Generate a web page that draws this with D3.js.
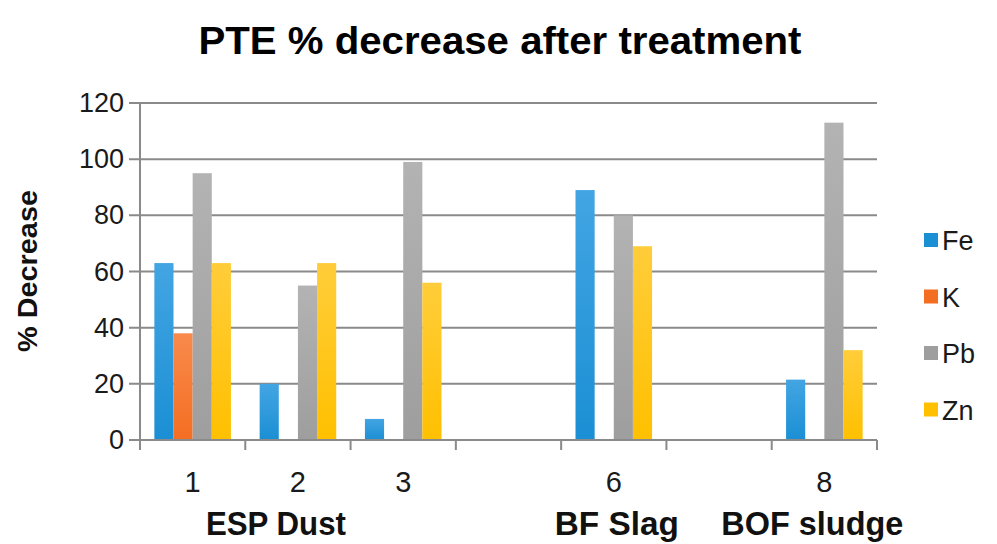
<!DOCTYPE html>
<html>
<head>
<meta charset="utf-8">
<script src="https://cdn.jsdelivr.net/npm/d3@7"></script>
<style>
	body { margin: 0; background: #fff; }
	svg { display: block; font-family: "Liberation Sans", Arial, sans-serif; }
</style>
</head>
<body>
<main></main>
<script>
// DATA
const categories = ["1", "2", "3", "", "6", "", "8"];
const series = ["Fe", "K", "Pb", "Zn"];
const feValues = [63, 20, 7.5, null, 89, null, 21.5];
const kValues = [38, null, null, null, null, null, null];
const pbValues = [95, 55, 99, null, 80, null, 113];
const znValues = [63, 63, 56, null, 69, null, 32];
const yTicks = [0, 20, 40, 60, 80, 100, 120];
const groupLabels = ["ESP Dust", "BF Slag", "BOF sludge"];
const colors = ["#1b8fd4", "#f46e22", "#9e9e9e", "#ffc000"];
const colorsLight = ["#43a5e3", "#f88a4c", "#b3b3b3", "#ffcd3a"];

// CHART
function drawChart() {
	const w = 997;
	const h = 544;
	const left = 140, right = 877, top = 103, bottom = 440;

	const svg = d3.select('main').append('svg')
		.attr("width", w)
		.attr("height", h);

	const values = [feValues, kValues, pbValues, znValues];

	// gradients
	const defs = svg.append("defs");
	series.forEach((s, si) => {
		const g = defs.append("linearGradient")
			.attr("id", "grad" + si)
			.attr("x1", 0).attr("y1", 0).attr("x2", 0).attr("y2", 1);
		g.append("stop").attr("offset", "0%").attr("stop-color", colorsLight[si]);
		g.append("stop").attr("offset", "100%").attr("stop-color", colors[si]);
	});

	// scales
	const x = d3.scaleBand()
		.domain(d3.range(categories.length))
		.range([left, right]);
	const bw = x.bandwidth();
	const pad = bw * 0.75 / 5.5;
	const xSub = d3.scaleBand()
		.domain(series)
		.range([pad, bw - pad]);
	const y = d3.scaleLinear()
		.domain([0, 120])
		.range([bottom, top]);

	// title
	svg.append("text")
		.attr("x", 500)
		.attr("y", 54)
		.attr("text-anchor", "middle")
		.attr("font-size", 38)
		.attr("font-weight", "bold")
		.attr("textLength", 603)
		.attr("lengthAdjust", "spacingAndGlyphs")
		.attr("fill", "#000")
		.text("PTE % decrease after treatment");

	// gridlines
	svg.append("g")
		.selectAll("line")
		.data(yTicks)
		.enter()
		.append("line")
			.attr("x1", left - 11)
			.attr("x2", right)
			.attr("y1", d => y(d))
			.attr("y2", d => y(d))
			.attr("stroke", "#8a8a8a")
			.attr("stroke-width", 2);

	// y axis
	const yAxis = d3.axisLeft(y).tickValues(yTicks).tickSize(0).tickPadding(16);
	const gy = svg.append("g")
		.attr("transform", `translate(${left}, 0)`)
		.call(yAxis);
	gy.select(".domain").remove();
	gy.selectAll("text")
		.attr("font-size", 27)
		.attr("font-family", "Liberation Sans, Arial, sans-serif")
		.attr("fill", "#1a1a1a");
	svg.append("line")
		.attr("x1", left).attr("x2", left)
		.attr("y1", top).attr("y2", bottom + 10)
		.attr("stroke", "#8a8a8a")
		.attr("stroke-width", 2);

	// bars
	series.forEach((s, si) => {
		svg.append("g")
			.selectAll("rect")
			.data(values[si].map((v, i) => ({ i: i, v: v })).filter(d => d.v !== null))
			.enter()
			.append("rect")
				.attr("x", d => x(d.i) + xSub(s))
				.attr("y", d => y(d.v))
				.attr("width", xSub.bandwidth())
				.attr("height", d => bottom - y(d.v))
				.attr("fill", `url(#grad${si})`);
	});

	// x axis
	const xAxis = d3.axisBottom(x).tickSize(0).tickPadding(31).tickFormat(i => categories[i]);
	const gx = svg.append("g")
		.attr("transform", `translate(0, ${bottom})`)
		.call(xAxis);
	gx.select(".domain").remove();
	gx.selectAll("text")
		.attr("font-size", 29)
		.attr("font-family", "Liberation Sans, Arial, sans-serif")
		.attr("fill", "#1a1a1a");
	svg.append("line")
		.attr("x1", left).attr("x2", right)
		.attr("y1", bottom).attr("y2", bottom)
		.attr("stroke", "#8a8a8a")
		.attr("stroke-width", 2);
	const bounds = d3.range(categories.length + 1).map(i => i < categories.length ? x(i) : right);
	svg.append("g")
		.selectAll("line")
		.data(bounds)
		.enter()
		.append("line")
			.attr("x1", d => d).attr("x2", d => d)
			.attr("y1", bottom).attr("y2", bottom + 10)
			.attr("stroke", "#8a8a8a")
			.attr("stroke-width", 2);

	// group labels
	const groupX = [x(1) + bw / 2 - 22, x(4) + bw / 2 + 3, x(6) + bw / 2 - 12];
	const groupW = [140, 124, 182];
	svg.append("g")
		.selectAll("text")
		.data(groupLabels)
		.enter()
		.append("text")
			.attr("x", (d, i) => groupX[i])
			.attr("y", 535)
			.attr("text-anchor", "middle")
			.attr("font-size", 33)
			.attr("font-weight", "bold")
			.attr("textLength", (d, i) => groupW[i])
			.attr("lengthAdjust", "spacingAndGlyphs")
			.attr("fill", "#111")
			.text(d => d);

	// y axis title
	svg.append("text")
		.attr("transform", "translate(37, 271) rotate(-90)")
		.attr("text-anchor", "middle")
		.attr("font-size", 28)
		.attr("font-weight", "bold")
		.attr("textLength", 162)
		.attr("lengthAdjust", "spacingAndGlyphs")
		.attr("fill", "#111")
		.text("% Decrease");

	// legend
	const legend = svg.append("g")
		.selectAll("g")
		.data(series)
		.enter()
		.append("g")
			.attr("transform", (d, i) => `translate(924, ${240 + i * 56.5})`);
	legend.append("rect")
		.attr("x", 0).attr("y", -7)
		.attr("width", 14).attr("height", 14)
		.attr("fill", (d, i) => colors[i]);
	legend.append("text")
		.attr("x", 18)
		.attr("y", 10)
		.attr("font-size", 27)
		.attr("fill", "#1a1a1a")
		.text(d => d);
}

document.addEventListener('DOMContentLoaded', () => {
	drawChart();
});
</script>
</body>
</html>
